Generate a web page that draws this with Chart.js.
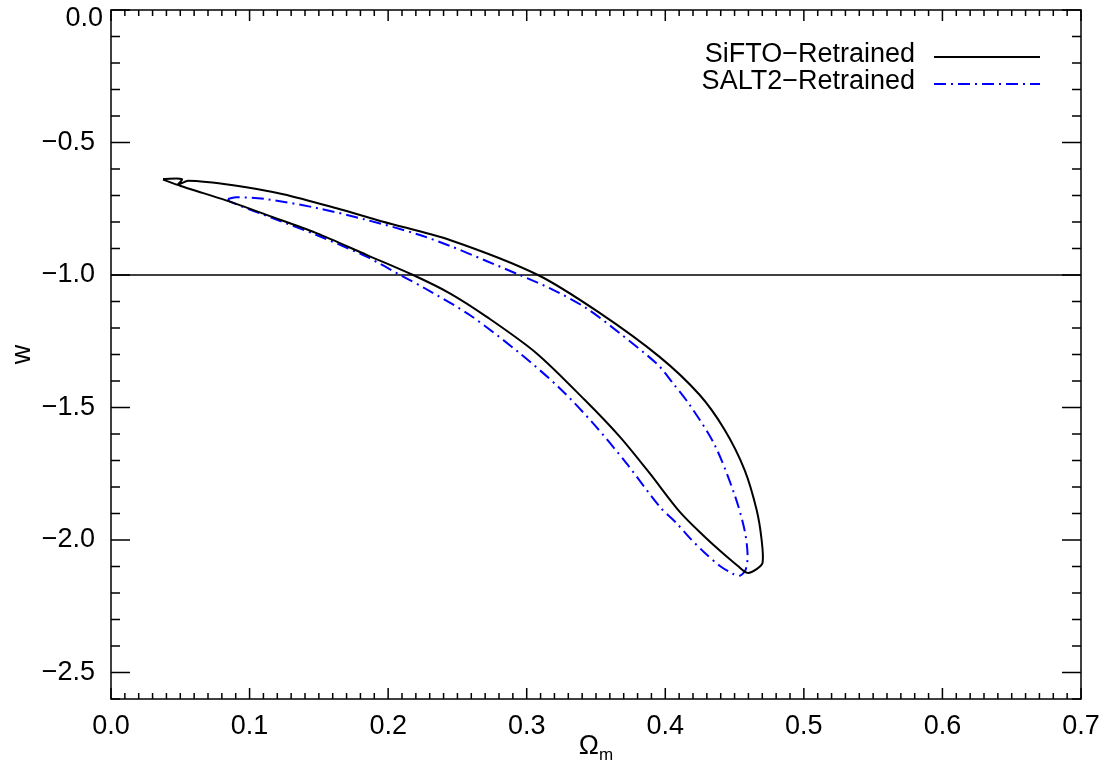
<!DOCTYPE html>
<html>
<head>
<meta charset="utf-8">
<script src="https://cdn.jsdelivr.net/npm/chart.js@4/dist/chart.umd.min.js"></script>
<style>
html,body{margin:0;padding:0;background:#fff;}
#wrap{width:1107px;height:778px;position:relative;}
</style>
</head>
<body>
<div id="wrap"><canvas id="c" width="1107" height="778"></canvas></div>
<script>
// ---- data ----
const seriesNames = ['SiFTO\u2212Retrained', 'SALT2\u2212Retrained'];
const xTicks = [0.0, 0.1, 0.2, 0.3, 0.4, 0.5, 0.6, 0.7];
const yTicks = [0.0, -0.5, -1.0, -1.5, -2.0, -2.5];

const siftoOm = [0.0375, 0.0512, 0.0483, 0.0557, 0.0882, 0.1243, 0.1628, 0.1964, 0.2445, 0.3081, 0.3526, 0.3959, 0.4247, 0.4428, 0.4572, 0.4659, 0.4695, 0.4702, 0.4659, 0.4594,
  0.4522, 0.4428, 0.4284, 0.4103, 0.3887, 0.3671, 0.3418, 0.3070, 0.2709, 0.2445, 0.2180, 0.1844, 0.1483, 0.1123, 0.0858, 0.0666, 0.0503, 0.0375];
const siftoW = [-0.638, -0.638, -0.660, -0.644, -0.661, -0.695, -0.748, -0.799, -0.868, -1.000, -1.143, -1.309, -1.452, -1.584, -1.735, -1.886, -1.999, -2.086, -2.110, -2.124,
  -2.097, -2.056, -1.988, -1.893, -1.748, -1.610, -1.471, -1.295, -1.157, -1.069, -1.000, -0.924, -0.842, -0.773, -0.723, -0.691, -0.664, -0.640];

const salt2Om = [0.0844, 0.0906, 0.1123, 0.1483, 0.1844, 0.2205, 0.2445, 0.2709, 0.2949, 0.3190, 0.3430, 0.3671, 0.3947, 0.4053, 0.4176, 0.4356, 0.4500, 0.4572, 0.4594, 0.4580, 0.4537, 0.4486,
  0.4392, 0.4284, 0.4176, 0.4080, 0.3959, 0.3719, 0.3478, 0.3238, 0.2949, 0.2589, 0.2264, 0.2108, 0.1844, 0.1483, 0.1170, 0.0858, 0.0844];
const salt2W = [-0.713, -0.7065, -0.714, -0.747, -0.792, -0.845, -0.890, -0.947, -1.000, -1.056, -1.125, -1.2196, -1.339, -1.407, -1.490, -1.641, -1.829, -1.962, -2.056, -2.112, -2.135, -2.127,
  -2.097, -2.048, -1.992, -1.936, -1.874, -1.710, -1.559, -1.427, -1.295, -1.151, -1.050, -1.006, -0.931, -0.849, -0.786, -0.723, -0.713];

const refLineOm = [0.0, 0.7];
const refLineW = [-1.0, -1.0];

const toPts = (xs, ys) => xs.map((x, i) => ({x: x, y: ys[i]}));

const FONT = '"Liberation Sans", Arial, Helvetica, sans-serif';
const fmtY = v => (v < 0 ? '\u2212' : '') + Math.abs(v).toFixed(1);

// inward ticks + frame
const frameTicks = {
  id: 'frameTicks',
  afterDatasetsDraw(chart) {
    const {ctx, chartArea: a, scales: {x, y}} = chart;
    ctx.save();
    ctx.strokeStyle = '#000';
    ctx.lineWidth = 1.5;
    ctx.strokeRect(a.left, a.top, a.right - a.left, a.bottom - a.top);
    ctx.beginPath();
    for (let i = 0; i <= 70; i++) {
      const v = i / 100;
      const px = x.getPixelForValue(v);
      const len = (i % 10 === 0) ? 11 : 6;
      ctx.moveTo(px, a.bottom); ctx.lineTo(px, a.bottom - len);
      ctx.moveTo(px, a.top); ctx.lineTo(px, a.top + len);
    }
    for (let i = 0; i <= 26; i++) {
      const v = -i / 10;
      const py = y.getPixelForValue(v);
      const len = (i % 5 === 0) ? 19 : 9;
      ctx.moveTo(a.left, py); ctx.lineTo(a.left + len, py);
      ctx.moveTo(a.right, py); ctx.lineTo(a.right - len, py);
    }
    ctx.stroke();

    // top y label (shifted down so it is not clipped, as in the original)
    ctx.fillStyle = '#000';
    ctx.font = '27px ' + FONT;
    ctx.textAlign = 'right';
    ctx.textBaseline = 'middle';
    ctx.fillText(fmtY(yTicks[0]), a.left - 8, y.getPixelForValue(yTicks[0]) + 9);

    // x axis title Omega_m
    ctx.textBaseline = 'alphabetic';
    ctx.textAlign = 'left';
    ctx.font = '27px ' + FONT;
    const cx = (a.left + a.right) / 2;
    const wO = ctx.measureText('\u03A9').width;
    ctx.font = '17px ' + FONT;
    const wm = ctx.measureText('m').width;
    const start = cx - (wO + wm) / 2;
    ctx.font = '27px ' + FONT;
    ctx.fillText('\u03A9', start, 754);
    ctx.font = '17px ' + FONT;
    ctx.fillText('m', start + wO, 760);

    // legend
    const ds = chart.data.datasets;
    const rows = [{y: 57, ds: ds[0]}, {y: 84, ds: ds[1]}];
    ctx.font = '27px ' + FONT;
    ctx.textAlign = 'right';
    ctx.textBaseline = 'middle';
    rows.forEach(r => {
      ctx.fillStyle = '#000';
      ctx.fillText(r.ds.label, 915, r.y - 2);
      ctx.beginPath();
      ctx.strokeStyle = r.ds.borderColor;
      ctx.lineWidth = r.ds.borderWidth;
      ctx.setLineDash(r.ds.borderDash || []);
      ctx.moveTo(934, r.y); ctx.lineTo(1040, r.y);
      ctx.stroke();
      ctx.setLineDash([]);
    });
    ctx.restore();
  }
};

new Chart(document.getElementById('c'), {
  type: 'scatter',
  data: {
    datasets: [
      {label: seriesNames[0], data: toPts(siftoOm, siftoW), showLine: true, borderColor: '#000000', borderWidth: 2,
       pointRadius: 0, fill: false, tension: 0.3},
      {label: seriesNames[1], data: toPts(salt2Om, salt2W), showLine: true, borderColor: '#0000ff', borderWidth: 2,
       borderDash: [12, 5, 2, 5], pointRadius: 0, fill: false, tension: 0.3},
      {label: 'w=-1', data: toPts(refLineOm, refLineW), showLine: true, borderColor: '#000000', borderWidth: 1.3,
       pointRadius: 0, fill: false}
    ]
  },
  options: {
    responsive: false,
    animation: false,
    layout: {padding: {top: 10, right: 26, left: 0, bottom: 0}},
    plugins: {legend: {display: false}, tooltip: {enabled: false}},
    scales: {
      x: {
        type: 'linear', min: 0, max: 0.7,
        grid: {display: false},
        border: {display: false},
        afterFit: s => { s.height = 79; s.paddingLeft = 0; s.paddingRight = 0; },
        afterBuildTicks: s => { s.ticks = xTicks.map(v => ({value: v})); },
        ticks: {color: '#000', font: {family: FONT, size: 27}, padding: 3, maxRotation: 0,
                callback: v => Number(v).toFixed(1)}
      },
      y: {
        type: 'linear', min: -2.6, max: 0.0,
        grid: {display: false},
        border: {display: false},
        afterFit: s => { s.width = 111; s.paddingTop = 0; s.paddingBottom = 0; },
        afterBuildTicks: s => { s.ticks = yTicks.map(v => ({value: v})); },
        title: {display: true, text: 'w', color: '#000', font: {family: FONT, size: 27}, padding: {top: 6, bottom: 0}},
        ticks: {color: '#000', font: {family: FONT, size: 27}, padding: 8,
                callback: v => (v === yTicks[0] ? '' : fmtY(v))}
      }
    }
  },
  plugins: [frameTicks]
});
</script>
</body>
</html>
